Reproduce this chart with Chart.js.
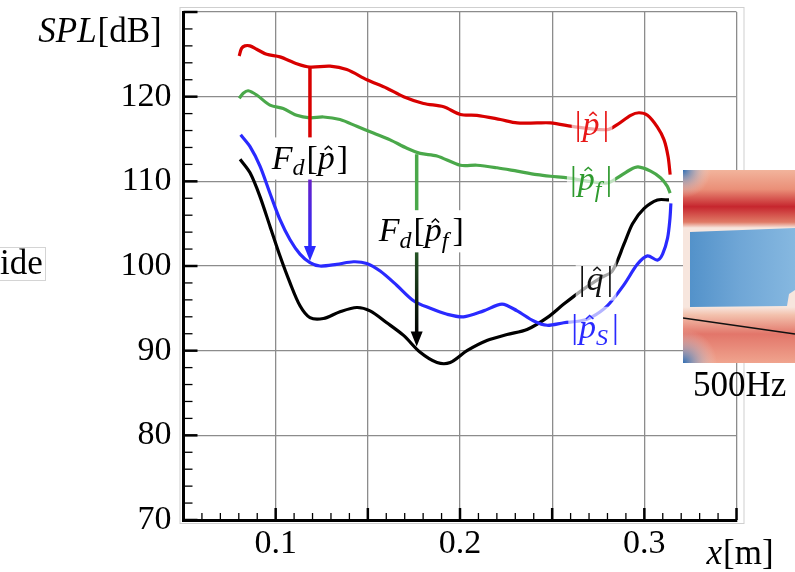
<!DOCTYPE html>
<html>
<head>
<meta charset="utf-8">
<script src="https://cdn.jsdelivr.net/npm/chart.js@4.4.0/dist/chart.umd.min.js"></script>
<style>
  html, body { margin: 0; padding: 0; background: #fff; }
  #wrap { width: 795px; height: 572px; }
</style>
</head>
<body>
<div id="wrap"><canvas id="c" width="795" height="572"></canvas></div>
<script>
/* ============================
   Datos
============================ */
const redX = [0.0802, 0.0815, 0.0833, 0.0860, 0.0897, 0.0951, 0.1023, 0.1114, 0.1186, 0.1295, 0.1386, 0.1495, 0.1603, 0.1694, 0.1802, 0.1911, 0.2002, 0.2092, 0.2219, 0.2310, 0.2418, 0.2491, 0.2636, 0.2799, 0.2853, 0.2926, 0.2971, 0.3017, 0.3071, 0.3107, 0.3129, 0.3140];
const redY = [124.8, 125.7, 126.0, 126.0, 125.6, 125.0, 124.7, 123.9, 123.5, 123.6, 123.2, 122.0, 121.0, 120.0, 119.2, 118.8, 117.9, 117.8, 117.3, 116.9, 116.9, 116.9, 116.4, 116.1, 116.7, 117.8, 118.1, 117.8, 116.4, 114.9, 112.9, 110.8];

const greenX = [0.0802, 0.0824, 0.0851, 0.0897, 0.0969, 0.1041, 0.1114, 0.1186, 0.1259, 0.1349, 0.1440, 0.1530, 0.1621, 0.1712, 0.1784, 0.1875, 0.2002, 0.2092, 0.2201, 0.2310, 0.2418, 0.2491, 0.2582, 0.2700, 0.2799, 0.2853, 0.2926, 0.2966, 0.3034, 0.3089, 0.3125, 0.3140];
const greenY = [119.8, 120.4, 120.7, 120.2, 119.0, 118.6, 117.8, 117.5, 117.6, 117.3, 116.5, 115.7, 114.9, 113.9, 113.3, 113.0, 111.9, 111.9, 111.6, 111.2, 110.8, 110.6, 110.4, 110.0, 109.8, 110.4, 111.4, 111.7, 111.2, 110.4, 109.4, 108.6];

const blueX = [0.0810, 0.0861, 0.0915, 0.0969, 0.1023, 0.1078, 0.1132, 0.1186, 0.1240, 0.1331, 0.1422, 0.1494, 0.1567, 0.1658, 0.1748, 0.1839, 0.1930, 0.2019, 0.2128, 0.2228, 0.2310, 0.2400, 0.2473, 0.2563, 0.2650, 0.2709, 0.2799, 0.2890, 0.2962, 0.3017, 0.3071, 0.3099, 0.3126, 0.3139, 0.3144];
const blueY = [115.5, 114.1, 111.8, 108.6, 105.5, 103.1, 101.4, 100.4, 100.0, 100.2, 100.5, 100.3, 99.4, 97.7, 95.9, 95.0, 94.3, 94.0, 94.7, 95.5, 94.7, 93.5, 93.0, 93.3, 93.5, 93.9, 95.3, 97.8, 100.2, 101.2, 100.7, 101.4, 103.3, 105.6, 107.4];

const blackX = [0.0807, 0.0861, 0.0915, 0.0969, 0.1023, 0.1078, 0.1132, 0.1186, 0.1259, 0.1349, 0.1440, 0.1512, 0.1603, 0.1694, 0.1784, 0.1875, 0.1947, 0.2038, 0.2146, 0.2255, 0.2364, 0.2473, 0.2563, 0.2672, 0.2763, 0.2826, 0.2890, 0.2936, 0.2999, 0.3071, 0.3134];
const blackY = [112.6, 111.0, 108.2, 104.7, 101.2, 98.0, 95.3, 93.9, 93.8, 94.6, 95.1, 94.7, 93.3, 91.8, 89.8, 88.6, 88.6, 90.0, 91.2, 91.9, 92.5, 93.9, 95.5, 97.3, 98.6, 99.4, 102.6, 105.0, 106.8, 107.8, 107.8];

// flechas F_d: [x, y inicio, y etiqueta, y punta]
const arrowP = [0.1186, 123.5, 112.7, 100.6];
const arrowPf = [0.1765, 113.2, 104.1, 90.5];

// etiquetas de curvas: posición en datos
const labelPos = { p: [0.2716, 116.7], pf: [0.2711, 110.2], q: [0.2738, 98.4], ps: [0.2733, 92.7] };

const xTickLabels = [0.1, 0.2, 0.3];

/* ============================
   Estilos
============================ */
const RED = "#d80000";
const GREEN = "#4aa84a";
const BLUE = "#2a2aff";
const BLACK = "#000000";
const SERIF = '"Liberation Serif", "DejaVu Serif", serif';
const FS = 34;

const pts = (xs, ys) => xs.map((x, i) => ({ x, y: ys[i] }));

const serie = (xs, ys, color) => ({
    data: pts(xs, ys),
    borderColor: color,
    borderWidth: 3.2,
    pointRadius: 0,
    tension: 0.3,
    fill: false,
});

/* ============================
   Texto matemático
============================ */
function mathText(ctx, parts, cx, cy, color, size, bg) {
    const font = (p) => `${p.it ? "italic " : ""}${p.sub ? Math.round(size * 0.7) : size}px ${SERIF}`;
    let w = 0;
    parts.forEach((p) => { ctx.font = font(p); p.w = ctx.measureText(p.t).width; w += p.w + (p.sp || 0); });
    let x = cx - w / 2;
    const base = cy + size * 0.3;
    if (bg) {
        ctx.fillStyle = bg;
        ctx.fillRect(x - 3, cy - size * 0.62, w + 6, size * 1.24);
    }
    ctx.fillStyle = color;
    ctx.strokeStyle = color;
    ctx.textAlign = "left";
    ctx.textBaseline = "alphabetic";
    parts.forEach((p) => {
        ctx.font = font(p);
        const yb = p.sub ? base + size * 0.2 : base;
        ctx.fillText(p.t, x, yb);
        if (p.hat) {
            const hx = x + p.w * 0.62, hy = yb - size * 0.66;
            ctx.lineWidth = 1.5;
            ctx.beginPath();
            ctx.moveTo(hx - size * 0.11, hy + size * 0.1);
            ctx.lineTo(hx, hy);
            ctx.lineTo(hx + size * 0.11, hy + size * 0.1);
            ctx.stroke();
        }
        x += p.w + (p.sp || 0);
    });
    return w;
}

function arrowHead(ctx, x, y, color) {
    ctx.fillStyle = color;
    ctx.beginPath();
    ctx.moveTo(x, y);
    ctx.lineTo(x - 6, y - 15);
    ctx.lineTo(x + 6, y - 15);
    ctx.closePath();
    ctx.fill();
}

function gradLine(ctx, x, y0, y1, c0, c1, w) {
    const g = ctx.createLinearGradient(0, y0, 0, y1);
    g.addColorStop(0, c0);
    g.addColorStop(1, c1);
    ctx.strokeStyle = g;
    ctx.lineWidth = w;
    ctx.beginPath();
    ctx.moveTo(x, y0);
    ctx.lineTo(x, y1);
    ctx.stroke();
}

/* ============================
   Recuadro de campo (500Hz)
============================ */
function drawInset(ctx) {
    const L = 683, T = 170, W = 112, H = 193;
    ctx.save();
    ctx.beginPath();
    ctx.rect(L, T, W, H);
    ctx.clip();
    let g = ctx.createLinearGradient(0, T, 0, T + H);
    g.addColorStop(0.00, "#f2b49c");
    g.addColorStop(0.10, "#ea8f78");
    g.addColorStop(0.19, "#c6262e");
    g.addColorStop(0.27, "#e07a66");
    g.addColorStop(0.30, "#f7e6de");
    g.addColorStop(0.71, "#f7e6de");
    g.addColorStop(0.75, "#f3c2ae");
    g.addColorStop(0.85, "#e2766a");
    g.addColorStop(1.00, "#f0a48e");
    ctx.fillStyle = g;
    ctx.fillRect(L, T, W, H);
    // bloque azul central
    g = ctx.createLinearGradient(L, 0, L + W, 0);
    g.addColorStop(0, "#4f8fc8");
    g.addColorStop(0.5, "#6fa6d6");
    g.addColorStop(1, "#86b8e0");
    ctx.fillStyle = g;
    ctx.beginPath();
    ctx.moveTo(L + 7, T + 62);
    ctx.lineTo(L + W, T + 58);
    ctx.lineTo(L + W, T + 120);
    ctx.lineTo(L + W - 6, T + 124);
    ctx.lineTo(L + W - 8, T + 136);
    ctx.lineTo(L + 7, T + 137);
    ctx.closePath();
    ctx.fill();
    // esquinas azules
    let rg = ctx.createRadialGradient(L, T, 0, L, T, 28);
    rg.addColorStop(0, "#2f6db3");
    rg.addColorStop(1, "rgba(247,230,222,0)");
    ctx.fillStyle = rg;
    ctx.fillRect(L, T, 30, 30);
    rg = ctx.createRadialGradient(L, T + H, 0, L, T + H, 34);
    rg.addColorStop(0, "#2f6db3");
    rg.addColorStop(1, "rgba(247,230,222,0)");
    ctx.fillStyle = rg;
    ctx.fillRect(L, T + H - 36, 36, 36);
    // línea negra
    ctx.strokeStyle = "#111";
    ctx.lineWidth = 1.6;
    ctx.beginPath();
    ctx.moveTo(L, T + 148);
    ctx.lineTo(L + W, T + 164);
    ctx.stroke();
    ctx.restore();
}

/* ============================
   Plugin de decoración
============================ */
const decor = {
    id: "decor",
    afterDatasetsDraw(chart) {
        const { ctx, chartArea: a, scales } = chart;
        const xs = scales.x, ys = scales.y;
        ctx.save();

        // marco exterior gris claro
        ctx.strokeStyle = "#cfcfcf";
        ctx.lineWidth = 1;
        ctx.strokeRect(a.left - 3.5, a.top - 4.5, a.right - a.left + 11, a.bottom - a.top + 8);

        // ticks interiores
        ctx.strokeStyle = "#000";
        for (let i = 0; i <= 30; i++) {
            const px = xs.getPixelForValue(xs.min + i * 0.01);
            const major = i % 5 === 0;
            ctx.lineWidth = major ? 2.5 : 1.3;
            ctx.beginPath();
            ctx.moveTo(px, a.bottom);
            ctx.lineTo(px, a.bottom - (major ? 12 : 7));
            ctx.stroke();
        }
        for (let i = 0; i <= 30; i++) {
            const py = ys.getPixelForValue(ys.min + i * 2);
            const major = i % 5 === 0;
            ctx.lineWidth = major ? 2.5 : 1.3;
            ctx.beginPath();
            ctx.moveTo(a.left, py);
            ctx.lineTo(a.left + (major ? 14 : 9), py);
            ctx.stroke();
        }

        // flecha F_d[p]
        let X = xs.getPixelForValue(arrowP[0]);
        let y0 = ys.getPixelForValue(arrowP[1]);
        let yl = ys.getPixelForValue(arrowP[2]);
        let yt = ys.getPixelForValue(arrowP[3]);
        ctx.lineCap = "butt";
        gradLine(ctx, X, y0, yl, RED, RED, 3.5);
        gradLine(ctx, X, yl, yt - 12, "#7a1fb8", BLUE, 3.5);
        arrowHead(ctx, X, yt, BLUE);
        mathText(ctx, [
            { t: "F", it: true }, { t: "d", it: true, sub: true, sp: 2 }, { t: "[" },
            { t: "p", it: true, hat: true, sp: 2 }, { t: "]" }
        ], X, yl, BLACK, 34, "#fff");

        // flecha F_d[p_f]
        X = xs.getPixelForValue(arrowPf[0]);
        y0 = ys.getPixelForValue(arrowPf[1]);
        yl = ys.getPixelForValue(arrowPf[2]);
        yt = ys.getPixelForValue(arrowPf[3]);
        gradLine(ctx, X, y0, yl, GREEN, GREEN, 3.5);
        gradLine(ctx, X, yl, yt - 12, "#2f6a2f", "#000", 3.5);
        arrowHead(ctx, X, yt, "#000");
        mathText(ctx, [
            { t: "F", it: true }, { t: "d", it: true, sub: true, sp: 2 }, { t: "[" },
            { t: "p", it: true, hat: true }, { t: "f", it: true, sub: true, sp: 4 }, { t: "]" }
        ], xs.getPixelForValue(arrowPf[0] + 0.0025), yl, BLACK, 34, "#fff");

        // etiquetas de curvas
        const bgSoft = "rgba(255,255,255,0.65)";
        let P = labelPos.p;
        mathText(ctx, [{ t: "|", sp: 1 }, { t: "p", it: true, hat: true, sp: 3 }, { t: "|" }],
            xs.getPixelForValue(P[0]), ys.getPixelForValue(P[1]), "#e81818", 34, bgSoft);
        P = labelPos.pf;
        mathText(ctx, [{ t: "|", sp: 1 }, { t: "p", it: true, hat: true }, { t: "f", it: true, sub: true, sp: 4 }, { t: "|" }],
            xs.getPixelForValue(P[0]), ys.getPixelForValue(P[1]), "#2e9a2e", 34, bgSoft);
        P = labelPos.q;
        mathText(ctx, [{ t: "|", sp: 1 }, { t: "q", it: true, hat: true, sp: 3 }, { t: "|" }],
            xs.getPixelForValue(P[0]), ys.getPixelForValue(P[1]), "#111", 34, bgSoft);
        P = labelPos.ps;
        mathText(ctx, [{ t: "|", sp: 1 }, { t: "p", it: true, hat: true }, { t: "S", it: true, sub: true, sp: 4 }, { t: "|" }],
            xs.getPixelForValue(P[0]), ys.getPixelForValue(P[1]), "#2a2aff", 34, bgSoft);

        // recuadro e imagen
        drawInset(ctx);

        // títulos de ejes y textos sueltos
        mathText(ctx, [{ t: "SPL", it: true, sp: 1 }, { t: "[dB]" }], 100, 31, BLACK, 35);
        mathText(ctx, [{ t: "x", it: true, sp: 1 }, { t: "[m]" }], 740, 553, BLACK, 35);
        ctx.font = `35px ${SERIF}`;
        ctx.fillStyle = "#000";
        ctx.textAlign = "left";
        ctx.textBaseline = "middle";
        ctx.fillText("ide", 0, 265);
        ctx.fillText("500Hz", 693, 387);
        ctx.strokeStyle = "#d4d4d4";
        ctx.lineWidth = 1;
        ctx.strokeRect(-1, 247.5, 46.5, 33);

        ctx.restore();
    }
};

/* ============================
   Gráfica
============================ */
const gridStyle = { color: "#8c8c8c", lineWidth: 1.3, drawTicks: false };

new Chart(document.getElementById("c"), {
    type: "line",
    data: {
        datasets: [
            serie(redX, redY, RED),
            serie(greenX, greenY, GREEN),
            serie(blueX, blueY, BLUE),
            serie(blackX, blackY, BLACK),
        ]
    },
    options: {
        responsive: false,
        animation: false,
        layout: { padding: { left: 0, top: 12, right: 58.5, bottom: 0 } },
        plugins: { legend: { display: false }, tooltip: { enabled: false } },
        scales: {
            x: {
                type: "linear",
                min: 0.05,
                max: 0.35,
                grid: gridStyle,
                border: { color: "#000", width: 3 },
                ticks: {
                    stepSize: 0.05,
                    autoSkip: false,
                    maxRotation: 0,
                    padding: 4,
                    color: "#000",
                    font: { family: SERIF, size: FS },
                    callback: (v) => (xTickLabels.some((t) => Math.abs(t - v) < 1e-6) ? v.toFixed(1) : ""),
                },
                afterFit: (s) => { s.height = 52; s.paddingLeft = 0; s.paddingRight = 0; },
            },
            y: {
                min: 70,
                max: 130,
                grid: gridStyle,
                border: { color: "#000", width: 3 },
                ticks: {
                    stepSize: 10,
                    padding: 12,
                    color: "#000",
                    font: { family: SERIF, size: FS },
                    callback: (v) => (v === 130 ? "" : v),
                },
                afterFit: (s) => { s.width = 183.5; s.paddingTop = 0; s.paddingBottom = 0; },
            }
        }
    },
    plugins: [decor]
});
</script>
</body>
</html>
